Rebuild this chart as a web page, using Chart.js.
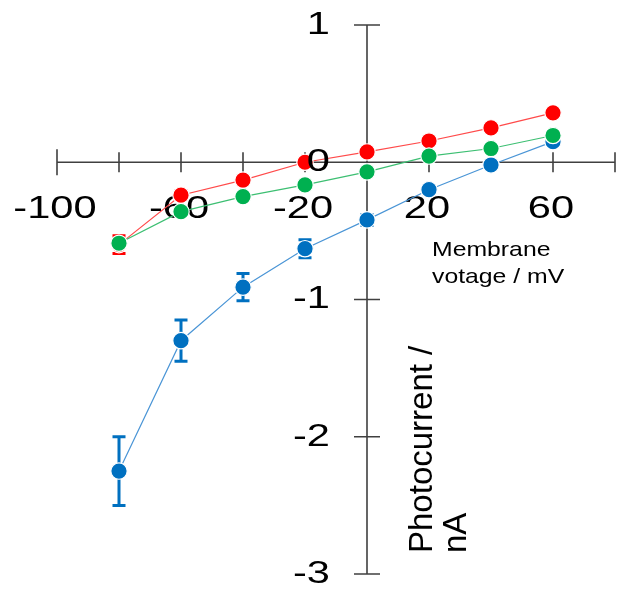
<!DOCTYPE html>
<html>
<head>
<meta charset="utf-8">
<script src="https://cdn.jsdelivr.net/npm/chart.js@4.4.1/dist/chart.umd.min.js"></script>
<style>
  html, body { margin: 0; padding: 0; background: #ffffff; }
  #wrap { width: 626px; height: 593px; }
</style>
</head>
<body>
<div id="wrap"><canvas id="chart" width="626" height="593"></canvas></div>
<script>
// Membrane voltage steps (mV)
const voltages = [-80, -60, -40, -20, 0, 20, 40, 60];

// Photocurrent (nA) per construct, with error half-widths
const bluePhotocurrent  = [-2.25, -1.30, -0.91, -0.63, -0.42, -0.20, -0.02, 0.15];
const blueError         = [0.25, 0.15, 0.10, 0.065, 0.04, 0.03, 0.02, 0.02];
const redPhotocurrent   = [-0.60, -0.24, -0.13, 0.00, 0.075, 0.155, 0.25, 0.36];
const redError          = [0.065, 0.03, 0.02, 0.02, 0.02, 0.02, 0.02, 0.02];
const greenPhotocurrent = [-0.59, -0.36, -0.25, -0.165, -0.07, 0.045, 0.10, 0.195];
const greenError        = [0.03, 0.02, 0.02, 0.02, 0.02, 0.02, 0.02, 0.02];

// Axis ticks and labels
const xTickValues  = [-100, -80, -60, -40, -20, 0, 20, 40, 60, 80];
const xLabelValues = [-100, -60, -20, 20, 60];
const yTickValues  = [1, 0, -1, -2, -3];
const xTitleLines  = ['Membrane', 'votage / mV'];
const yTitleLines  = ['Photocurrent /', 'nA'];

const COLORS = {
  blue:  { point: '#0070C0', line: '#4a95d6' },
  red:   { point: '#FF0000', line: '#ff4a4a' },
  green: { point: '#00B050', line: '#3cbf72' }
};
const AXIS_COLOR = '#404040';
const TICK_FONT = '32px "Liberation Sans", Arial, sans-serif';
const X_TITLE_FONT = '21px "Liberation Sans", Arial, sans-serif';
const Y_TITLE_FONT = '33px "Liberation Sans", Arial, sans-serif';

function pairs(ys) { return voltages.map((v, i) => ({ x: v, y: ys[i] })); }

function series(label, ys, errs, c, order) {
  return {
    label, data: pairs(ys), errors: errs,
    showLine: true,
    borderColor: c.line, borderWidth: 1.2,
    pointBackgroundColor: c.point, pointBorderColor: '#ffffff',
    pointBorderWidth: 1.2, pointRadius: 8.2, pointHoverRadius: 8.2,
    errorColor: c.point,
    order, clip: false
  };
}

function stretchedText(ctx, text, x, y, sx) {
  ctx.save();
  ctx.translate(x, y);
  ctx.scale(sx, 1);
  ctx.fillText(text, 0, 0);
  ctx.restore();
}

// Cross-style axes through the origin, with tick labels and titles
const axesPlugin = {
  id: 'crossAxes',
  beforeDatasetsDraw(chart) {
    const { ctx, scales: { x, y } } = chart;
    const x0 = x.getPixelForValue(0), y0 = y.getPixelForValue(0);
    ctx.save();
    ctx.strokeStyle = AXIS_COLOR;
    ctx.lineWidth = 1.6;
    ctx.beginPath();
    ctx.moveTo(x.getPixelForValue(x.min), y0);
    ctx.lineTo(x.getPixelForValue(x.max), y0);
    ctx.moveTo(x0, y.getPixelForValue(y.max));
    ctx.lineTo(x0, y.getPixelForValue(y.min));
    xTickValues.forEach((v, i) => {
      const px = x.getPixelForValue(v);
      const h = (i === 0) ? 13 : 10;
      ctx.moveTo(px, y0 - h); ctx.lineTo(px, y0 + h);
    });
    yTickValues.forEach(v => {
      const py = y.getPixelForValue(v);
      ctx.moveTo(x0 - 13, py); ctx.lineTo(x0 + 13, py);
    });
    ctx.stroke();

    ctx.fillStyle = '#000000';
    ctx.font = TICK_FONT;
    ctx.textAlign = 'center';
    ctx.textBaseline = 'alphabetic';
    xLabelValues.forEach(v => {
      stretchedText(ctx, String(v), x.getPixelForValue(v) - 2, y0 + 56, 1.3);
    });

    ctx.font = X_TITLE_FONT;
    ctx.textAlign = 'left';
    stretchedText(ctx, xTitleLines[0], 432, 256, 1.18);
    stretchedText(ctx, xTitleLines[1], 432, 283, 1.18);

    ctx.font = Y_TITLE_FONT;
    ctx.save();
    ctx.translate(432, 553);
    ctx.rotate(-Math.PI / 2);
    ctx.fillText(yTitleLines[0], 0, 0);
    ctx.fillText(yTitleLines[1], 0, 34);
    ctx.restore();

    // error bars sit underneath the markers
    chart.data.datasets.slice().sort((a, b) => b.order - a.order).forEach(ds => {
      ctx.strokeStyle = ds.errorColor;
      ctx.lineWidth = 3;
      ds.data.forEach((p, i) => {
        const e = ds.errors[i];
        const px = x.getPixelForValue(p.x);
        const top = y.getPixelForValue(p.y + e);
        const bot = y.getPixelForValue(p.y - e);
        ctx.beginPath();
        ctx.moveTo(px, top); ctx.lineTo(px, bot);
        ctx.moveTo(px - 6.5, top); ctx.lineTo(px + 6.5, top);
        ctx.moveTo(px - 6.5, bot); ctx.lineTo(px + 6.5, bot);
        ctx.stroke();
      });
    });
    ctx.restore();
  },
  afterDatasetsDraw(chart) {
    const { ctx, scales: { x, y } } = chart;
    const x0 = x.getPixelForValue(0);
    ctx.save();
    ctx.fillStyle = '#000000';
    ctx.font = TICK_FONT;
    ctx.textAlign = 'right';
    ctx.textBaseline = 'middle';
    yTickValues.forEach(v => {
      stretchedText(ctx, String(v), x0 - 37, y.getPixelForValue(v), 1.3);
    });
    ctx.restore();
  }
};

new Chart(document.getElementById('chart'), {
  type: 'scatter',
  data: {
    datasets: [
      series('Blue', bluePhotocurrent, blueError, COLORS.blue, 2),
      series('Red', redPhotocurrent, redError, COLORS.red, 1),
      series('Green', greenPhotocurrent, greenError, COLORS.green, 0)
    ]
  },
  options: {
    responsive: false,
    devicePixelRatio: 1,
    animation: false,
    layout: { padding: { left: 57, right: 11, top: 25, bottom: 19 } },
    plugins: { legend: { display: false }, tooltip: { enabled: false } },
    scales: {
      x: { type: 'linear', min: -100, max: 80, display: false },
      y: { type: 'linear', min: -3, max: 1, display: false }
    }
  },
  plugins: [axesPlugin]
});
</script>
</body>
</html>
